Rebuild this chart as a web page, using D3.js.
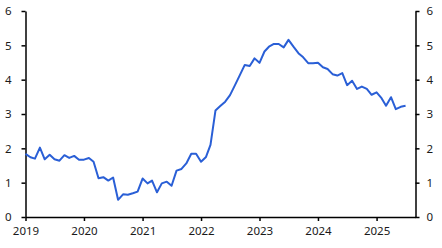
<!DOCTYPE html>
<html>
<head>
<meta charset="utf-8">
<script src="https://cdn.jsdelivr.net/npm/d3@7"></script>
<style>
  body { margin: 0; background: #fff; }
  .axis text { font-family: "Noto Sans", sans-serif; font-size: 11.5px; fill: #1a1a1a; }
  .axis path, .axis line { stroke: #000; stroke-width: 1.5px; }
</style>
</head>
<body>
<div id="chart"></div>
<script>
// monthly values, Jan 2019 .. Jul 2025
const startMonth = "2019-01";
const values = [
  1.84, 1.74, 1.70, 2.02, 1.68, 1.81, 1.68, 1.64, 1.80, 1.72, 1.78, 1.67,
  1.67, 1.72, 1.61, 1.13, 1.16, 1.06, 1.15, 0.50, 0.66, 0.65, 0.69, 0.74,
  1.12, 0.98, 1.06, 0.72, 0.98, 1.03, 0.91, 1.35, 1.40, 1.56, 1.84, 1.84,
  1.61, 1.75, 2.10, 3.10, 3.23, 3.36, 3.55, 3.84, 4.14, 4.43, 4.40, 4.62,
  4.49, 4.82, 4.96, 5.04, 5.04, 4.94, 5.16, 4.96, 4.77, 4.65, 4.48, 4.48,
  4.49, 4.36, 4.31, 4.16, 4.12, 4.19, 3.84, 3.97, 3.73, 3.80, 3.73, 3.56,
  3.63, 3.46, 3.24, 3.49, 3.14, 3.21, 3.24
];
const yTicks = [0, 1, 2, 3, 4, 5, 6];
const yearTicks = [2019, 2020, 2021, 2022, 2023, 2024, 2025];

const width = 442, height = 248;
const margin = { top: 11, right: 26.5, bottom: 31, left: 25.5 };

const svg = d3.select("#chart").append("svg")
  .attr("width", width)
  .attr("height", height);

const t0 = d3.utcParse("%Y-%m")(startMonth);
const data = values.map((v, i) => ({ date: d3.utcMonth.offset(t0, i), value: v }));

const x = d3.scaleUtc()
  .domain([t0, new Date(Date.UTC(2025, 8, 1))])
  .range([margin.left, width - margin.right]);

const y = d3.scaleLinear()
  .domain([0, 6])
  .range([height - margin.bottom, margin.top]);

// x axis
svg.append("g")
  .attr("class", "axis")
  .attr("transform", `translate(0,${height - margin.bottom})`)
  .call(d3.axisBottom(x)
    .tickValues(yearTicks.map(yr => new Date(Date.UTC(yr, 0, 1))))
    .tickFormat(d3.utcFormat("%Y"))
    .tickSizeInner(4).tickSizeOuter(0).tickPadding(6));

// left axis
svg.append("g")
  .attr("class", "axis")
  .attr("transform", `translate(${margin.left},0)`)
  .call(d3.axisLeft(y).tickValues(yTicks).tickFormat(d3.format("d"))
    .tickSizeInner(4).tickSizeOuter(0).tickPadding(10));

// right axis
svg.append("g")
  .attr("class", "axis")
  .attr("transform", `translate(${width - margin.right},0)`)
  .call(d3.axisRight(y).tickValues(yTicks).tickFormat(d3.format("d"))
    .tickSizeInner(4).tickSizeOuter(0).tickPadding(7));

const line = d3.line()
  .x(d => x(d.date))
  .y(d => y(d.value));

svg.append("path")
  .datum(data)
  .attr("fill", "none")
  .attr("stroke", "#2a5fd6")
  .attr("stroke-width", 2)
  .attr("stroke-linejoin", "round")
  .attr("d", line);
</script>
</body>
</html>
